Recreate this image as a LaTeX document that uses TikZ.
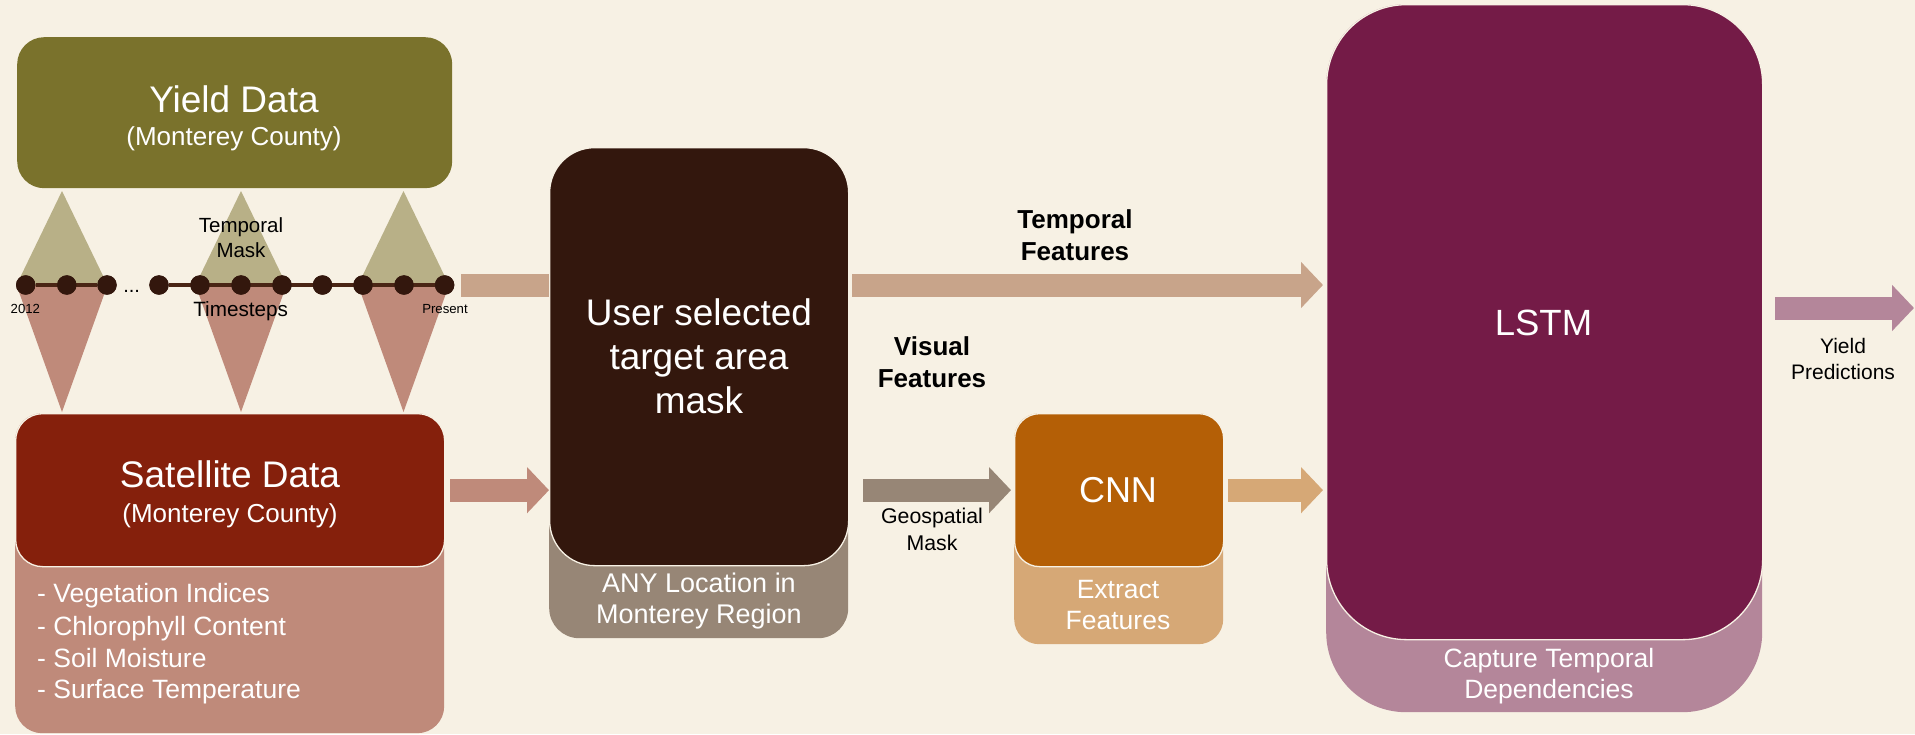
\documentclass[tikz,border=0pt]{standalone}
\usepackage{fontspec}
\setmainfont{Liberation Sans}
\usetikzlibrary{arrows.meta,calc}
\definecolor{paper}{HTML}{F7F1E4}
\definecolor{yieldolive}{HTML}{7A722C}
\definecolor{masktop}{HTML}{B8B087}
\definecolor{maskbot}{HTML}{BF8A7A}
\definecolor{satdark}{HTML}{85200C}
\definecolor{satlight}{HTML}{BF8A7A}
\definecolor{selbrown}{HTML}{33170D}
\definecolor{selgray}{HTML}{978676}
\definecolor{cnnorange}{HTML}{B45F06}
\definecolor{cnnlight}{HTML}{D6A876}
\definecolor{lstmplum}{HTML}{741B47}
\definecolor{lstmlight}{HTML}{B4869A}
\definecolor{tanflow}{HTML}{C8A48A}
\definecolor{dotink}{HTML}{33170D}
\definecolor{lineink}{HTML}{4A2515}
\newcommand{\setfs}[1]{\fontsize{#1}{#1}\selectfont}
\begin{document}
\begin{tikzpicture}[x=1pt,y=-1pt,
  panel/.style={rounded corners=#1, inner sep=0pt, anchor=north west},
  capbox/.style={draw=paper, line width=1.3pt},
  word/.style={anchor=base, inner sep=0pt},
  wordw/.style={anchor=base west, inner sep=0pt},
  dot/.style={circle, fill=dotink, minimum size=19.4pt, inner sep=0pt},
  flow/.style={line width=23pt, -{Triangle[length=22pt,width=45pt]}},
  slab/.style={line width=23pt},
]
\fill[paper] (0,0) rectangle (1915,734);
\useasboundingbox (0,0) rectangle (1915,734);

% masks linking the yield and satellite records to the timeline
\foreach \cx in {62,241,403.5}{
  \fill[masktop] (\cx-45.5,285) -- (\cx,191) -- (\cx+45.5,285) -- cycle;
  \fill[maskbot] (\cx-45.5,285) -- (\cx,412) -- (\cx+45.5,285) -- cycle;
}

% timeline of timesteps
\node[dot] (t1) at (25.7,285) {};
\node[dot] (t2) at (66.8,285) {};
\node[dot] (t3) at (107,285) {};
\node[dot] (t4) at (159,285) {};
\node[dot] (t5) at (200,285) {};
\node[dot] (t6) at (241,285) {};
\node[dot] (t7) at (282,285) {};
\node[dot] (t8) at (322.5,285) {};
\node[dot] (t9) at (363,285) {};
\node[dot] (t10) at (404,285) {};
\node[dot] (t11) at (444.6,285) {};
\draw[lineink, line width=4.5pt] (t1) -- (t3);
\draw[lineink, line width=4.5pt] (t4) -- (t11);
\foreach \n in {t1,t2,t3,t4,t5,t6,t7,t8,t9,t10,t11}{
  \fill[dotink] (\n) circle (9.7);
}
\node[word, font=\setfs{20}] (dots) at (131.6,292) {...};
\node[word, font=\setfs{20.5}] (tmask1) at (241,232) {Temporal};
\node[word, font=\setfs{20.5}] (tmask2) at (241,257) {Mask};
\node[word, font=\setfs{20.7}] (tsteps) at (240.7,316) {Timesteps};
\node[word, font=\setfs{13.2}] (tstart) at (25.4,313) {2012};
\node[word, font=\setfs{13.2}] (tend) at (445,313) {Present};

% panels
\node[panel=27pt, fill=yieldolive, minimum width=435pt, minimum height=151pt] (yield) at (17,37) {};
\node[panel=27pt, fill=satlight, minimum width=429pt, minimum height=320pt] (sat) at (15,413) {};
\node[panel=27pt, capbox, fill=satdark, minimum width=429pt, minimum height=153pt] (satdark) at (15,413) {};
\node[panel=30pt, fill=selgray, minimum width=299pt, minimum height=238pt] (maskbase) at (549,400) {};
\node[panel=45pt, capbox, fill=selbrown, minimum width=299pt, minimum height=418pt] (mask) at (549,147) {};
\node[panel=25pt, fill=cnnlight, minimum width=209pt, minimum height=231pt] (cnnbase) at (1014,413) {};
\node[panel=25pt, capbox, fill=cnnorange, minimum width=209pt, minimum height=153pt] (cnndark) at (1014,413) {};
\node[panel=80pt, fill=lstmlight, minimum width=436pt, minimum height=708pt] (lstmbase) at (1326,4) {};
\node[panel=80pt, capbox, fill=lstmplum, minimum width=436pt, minimum height=635pt] (lstm) at (1326,4) {};

% flows
\draw[slab, tanflow] ($(t11.east)+(6.5,0)$) -- (t11 -| mask.west);
\draw[flow, tanflow] ($(t11 -| mask.east)+(3,0)$) -- ($(t11 -| lstm.west)+(-3,0)$);
\draw[flow, satlight] ($(satdark.east)+(5,0)$) -- (satdark.east -| mask.west);
\draw[flow, selgray] ($(cnndark.west -| mask.east)+(14,0)$) -- ($(cnndark.west)+(-3,0)$);
\draw[flow, cnnlight] ($(cnndark.east)+(4,0)$) -- ($(cnndark.east -| lstm.west)+(-3,0)$);
\coordinate (yieldout) at (1914,308);
\draw[flow, lstmlight] ($(yieldout -| lstm.east)+(12,0)$) -- (yieldout);

% panel texts
\begin{scope}[every node/.append style={text=white}]
\node[word, font=\setfs{37}] (yieldT) at (234,112) {Yield Data};
\node[word, font=\setfs{26}] (yieldS) at (234,145) {(Monterey County)};
\node[word, font=\setfs{37}] (satT) at (230,487) {Satellite Data};
\node[word, font=\setfs{26}] (satS) at (230,522) {(Monterey County)};
\node[wordw, font=\setfs{26.5}] (sat1) at (37,602) {- Vegetation Indices};
\node[wordw, font=\setfs{26.5}] (sat2) at (37,635) {- Chlorophyll Content};
\node[wordw, font=\setfs{26.5}] (sat3) at (37,667) {- Soil Moisture};
\node[wordw, font=\setfs{26.5}] (sat4) at (37,698) {- Surface Temperature};
\node[word, font=\setfs{37}] (mask1) at (699,325) {User selected};
\node[word, font=\setfs{37}] (mask2) at (699,369) {target area};
\node[word, font=\setfs{37}] (mask3) at (699,413) {mask};
\node[word, font=\setfs{27}] (loc1) at (699,592) {ANY Location in};
\node[word, font=\setfs{27}] (loc2) at (699,623) {Monterey Region};
\node[word, font=\setfs{36}] (cnnT) at (1118,502) {CNN};
\node[word, font=\setfs{26.5}] (ext1) at (1118,598) {Extract};
\node[word, font=\setfs{26.5}] (ext2) at (1118,629) {Features};
\node[word, font=\setfs{36.5}] (lstmT) at (1543.5,335) {LSTM};
\node[word, font=\setfs{26.5}] (cap1) at (1549,667) {Capture Temporal};
\node[word, font=\setfs{26.5}] (cap2) at (1549,698) {Dependencies};
\end{scope}

% flow labels
\node[word, font=\bfseries\setfs{26}] (tf1) at (1075,228) {Temporal};
\node[word, font=\bfseries\setfs{26}] (tf2) at (1075,260) {Features};
\node[word, font=\bfseries\setfs{26}] (vf1) at (932,355) {Visual};
\node[word, font=\bfseries\setfs{26}] (vf2) at (932,387) {Features};
\node[word, font=\setfs{21.3}] (gm1) at (932,523) {Geospatial};
\node[word, font=\setfs{21.3}] (gm2) at (932,550) {Mask};
\node[word, font=\setfs{21}] (yp1) at (1843,353) {Yield};
\node[word, font=\setfs{21}] (yp2) at (1843,379) {Predictions};
\end{tikzpicture}
\end{document}
